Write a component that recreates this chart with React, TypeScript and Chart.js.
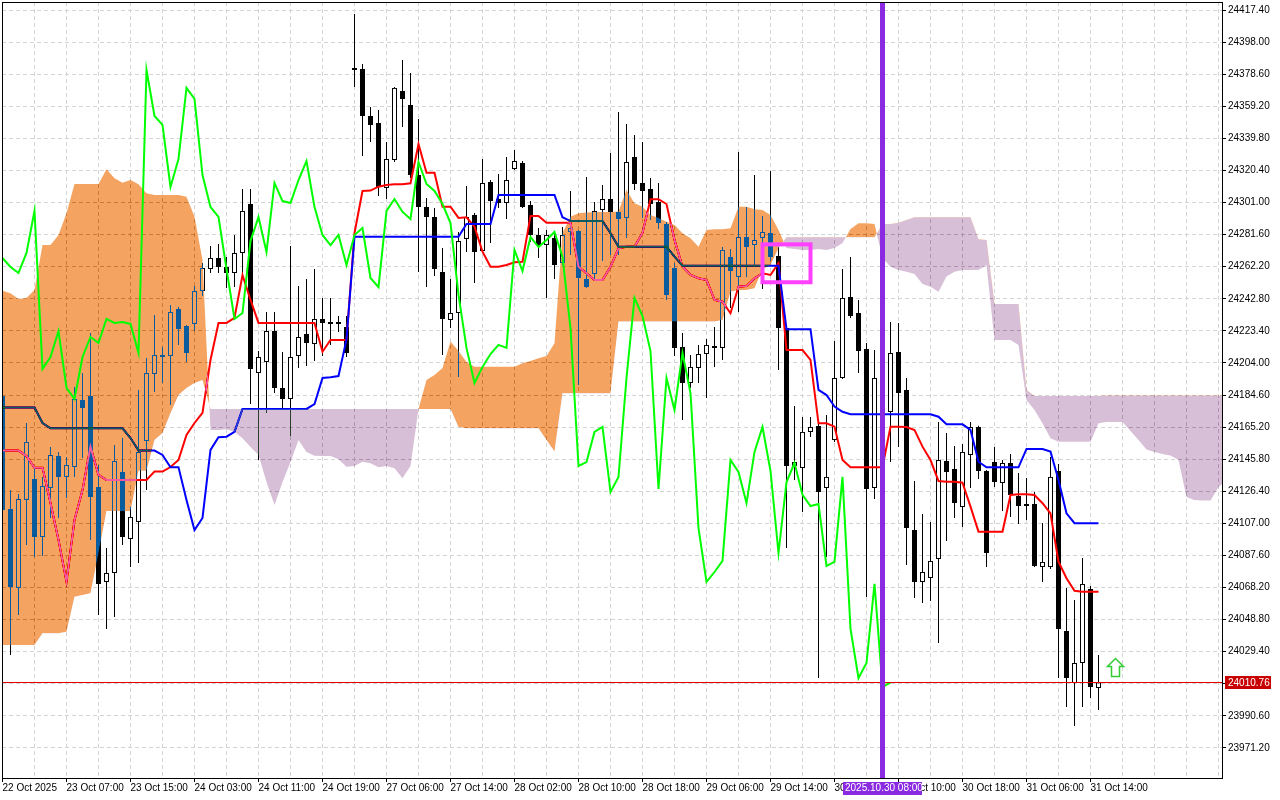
import React, { useEffect, useRef } from 'react';
import { Chart, registerables } from 'chart.js';

// ---- price data (H1 candles, index 0 = 22 Oct 2025 23:00) ----
const opens = [24184.0,24115.7,24068.0,24121.2,24133.9,24098.8,24128.4,24147.8,24135.1,24141.1,24181.6,24184.0,24129.0,24071.6,24077.0,24138.1,24097.6,24107.9,24156.8,24197.3,24207.6,24208.2,24236.6,24226.4,24227.6,24247.5,24260.8,24267.5,24262.0,24258.4,24270.5,24300.1,24197.9,24204.6,24223.3,24188.9,24182.2,24208.2,24221.5,24215.5,24230.6,24227.6,24228.8,24225.8,24382.3,24381.7,24353.3,24349.1,24309.8,24326.7,24368.4,24360.0,24317.6,24298.3,24292.3,24259.0,24230.0,24234.2,24279.0,24293.5,24271.7,24313.4,24303.1,24300.7,24321.3,24324.9,24299.5,24281.4,24275.3,24279.6,24264.4,24283.2,24283.8,24254.8,24257.8,24296.5,24303.1,24295.3,24291.7,24328.5,24312.8,24309.2,24301.3,24288.0,24261.4,24213.7,24191.9,24201.0,24209.4,24214.3,24213.1,24268.1,24256.0,24280.2,24275.3,24279.6,24282.6,24268.7,24225.1,24141.7,24140.5,24162.3,24165.9,24128.4,24157.4,24194.9,24243.9,24234.2,24212.4,24128.4,24194.9,24174.4,24210.6,24187.7,24103.0,24071.6,24074.0,24085.5,24144.7,24139.9,24116.9,24148.4,24165.3,24138.7,24144.1,24131.4,24143.5,24123.6,24117.5,24118.7,24080.6,24080.6,24138.7,24042.0,24010.5,24022.6,24067.3,24007.5];
const highs = [24186.5,24127.2,24124.8,24167.7,24141.1,24135.1,24153.2,24150.2,24147.2,24189.5,24197.9,24222.1,24142.3,24092.1,24154.4,24158.6,24116.9,24187.7,24207.0,24233.0,24213.7,24239.1,24237.8,24227.0,24250.5,24264.4,24274.7,24275.9,24268.1,24281.4,24309.2,24309.2,24211.2,24234.8,24234.8,24210.6,24274.7,24250.5,24254.8,24260.8,24243.3,24243.3,24232.4,24232.4,24415.0,24384.8,24358.8,24356.9,24337.6,24370.9,24387.2,24379.3,24351.5,24303.7,24297.7,24273.5,24254.8,24283.2,24311.0,24294.7,24327.3,24314.6,24318.3,24328.5,24332.8,24326.1,24301.9,24285.6,24284.4,24283.8,24286.2,24308.0,24284.4,24316.4,24301.3,24311.6,24331.0,24355.7,24348.5,24341.8,24337.6,24315.8,24312.8,24289.2,24264.4,24222.1,24208.8,24214.9,24218.5,24225.8,24274.1,24272.9,24331.6,24298.3,24317.6,24292.9,24320.1,24274.1,24227.0,24178.0,24171.3,24171.3,24167.1,24172.5,24217.3,24260.8,24268.1,24242.1,24216.1,24211.8,24211.8,24228.8,24228.2,24194.9,24132.6,24112.7,24107.9,24168.3,24161.7,24153.8,24155.0,24168.3,24166.0,24139.3,24153.2,24145.3,24149.0,24137.5,24134.5,24126.0,24107.2,24147.2,24142.9,24068.0,24060.7,24086.1,24069.2,24027.4];
const lows = [24112.1,24027.4,24051.6,24093.9,24086.7,24087.3,24110.3,24110.3,24122.4,24135.1,24146.5,24097.0,24051.6,24043.2,24050.4,24093.9,24080.6,24083.1,24127.2,24186.5,24191.9,24178.6,24214.9,24204.6,24223.3,24244.5,24258.4,24258.4,24249.3,24249.9,24258.4,24179.2,24145.3,24173.8,24185.8,24176.8,24159.8,24201.0,24202.2,24205.2,24208.2,24214.9,24222.7,24207.6,24370.9,24329.1,24337.6,24305.0,24303.1,24325.5,24346.7,24315.8,24259.0,24249.9,24256.6,24208.8,24225.1,24195.5,24271.1,24252.4,24271.1,24276.5,24297.7,24291.0,24320.7,24297.7,24277.1,24267.5,24243.3,24254.8,24263.2,24269.3,24190.7,24249.3,24253.6,24265.7,24269.3,24269.3,24279.6,24308.6,24291.7,24290.4,24285.0,24242.1,24208.2,24169.5,24188.9,24191.9,24182.8,24201.6,24205.8,24237.2,24234.8,24256.0,24262.0,24248.7,24265.7,24199.8,24092.1,24133.2,24113.9,24159.2,24013.5,24086.7,24156.2,24194.3,24231.2,24197.9,24062.5,24121.8,24157.4,24144.1,24153.2,24081.9,24061.9,24058.9,24060.1,24034.7,24096.4,24110.3,24104.8,24128.4,24133.9,24080.6,24129.0,24114.5,24110.9,24106.6,24109.1,24080.6,24071.6,24079.4,24013.5,23996.0,23984.5,23996.0,24001.4,23994.2];
const closes = [24115.1,24068.6,24121.8,24156.2,24098.8,24129.6,24148.4,24135.1,24142.3,24182.2,24176.8,24123.0,24070.4,24077.0,24144.7,24098.8,24110.9,24150.2,24197.9,24208.8,24208.8,24234.8,24224.5,24210.0,24247.5,24261.4,24267.5,24262.0,24258.4,24270.5,24295.9,24200.4,24207.6,24223.3,24188.9,24182.2,24207.6,24219.7,24216.1,24230.6,24228.2,24228.8,24227.6,24210.0,24381.1,24353.3,24347.9,24310.4,24327.3,24370.3,24363.6,24317.6,24298.3,24292.3,24260.8,24230.6,24234.2,24277.7,24292.3,24271.1,24312.8,24301.9,24300.7,24314.6,24326.1,24298.3,24281.4,24275.3,24281.4,24263.2,24281.4,24285.6,24255.4,24249.9,24295.9,24303.1,24295.3,24291.0,24325.5,24312.2,24308.0,24300.1,24288.6,24245.1,24213.1,24191.9,24201.6,24209.4,24214.9,24213.1,24272.3,24259.6,24280.2,24274.1,24278.4,24283.2,24268.1,24225.1,24141.7,24144.1,24162.3,24165.3,24126.0,24135.1,24194.9,24243.3,24232.4,24211.2,24127.8,24194.9,24175.6,24210.0,24185.8,24104.2,24071.6,24077.6,24084.3,24145.3,24138.1,24119.3,24150.2,24165.3,24138.7,24089.1,24132.0,24143.5,24124.2,24117.5,24118.7,24081.3,24083.7,24135.1,24043.2,24013.5,24022.6,24070.4,24008.1,24010.76];

// ---- Ichimoku lines ----
const tenkanSen = [24151.0,24151.0,24151.0,24147.8,24140.7,24140.7,24119.3,24097.0,24071.8,24109.1,24127.2,24153.4,24136.3,24133.2,24133.2,24133.2,24133.2,24133.2,24133.2,24138.3,24138.3,24141.1,24145.3,24160.5,24167.7,24173.8,24205.8,24228.2,24228.2,24231.2,24257.2,24242.1,24228.2,24228.2,24228.2,24228.2,24228.2,24228.2,24228.2,24228.2,24210.8,24217.9,24217.9,24217.9,24282.6,24308.0,24308.2,24310.6,24311.6,24312.0,24312.0,24312.6,24336.4,24319.0,24319.0,24298.5,24298.5,24291.7,24292.1,24286.4,24271.3,24262.2,24262.2,24263.2,24264.9,24265.2,24292.9,24292.9,24288.8,24288.8,24288.8,24288.8,24262.2,24258.2,24254.2,24254.2,24262.2,24273.3,24274.3,24274.3,24282.6,24303.0,24303.0,24300.1,24278.4,24262.2,24257.2,24255.2,24254.2,24242.1,24241.0,24234.0,24250.1,24250.5,24255.2,24258.2,24257.2,24264.3,24211.8,24211.8,24211.8,24205.8,24167.5,24167.5,24165.5,24145.3,24140.9,24140.9,24140.9,24140.9,24140.9,24165.5,24165.5,24165.3,24163.5,24153.4,24145.3,24132.6,24132.2,24132.2,24131.6,24117.1,24102.0,24102.0,24102.0,24102.0,24124.2,24124.6,24124.6,24124.2,24119.2,24113.1,24083.9,24073.8,24066.3,24065.7,24065.7,24065.7];
const kijunSen = [24177.0,24177.0,24177.0,24177.0,24177.0,24167.7,24164.5,24164.5,24164.5,24164.5,24164.5,24164.5,24164.5,24164.5,24164.5,24164.5,24158.6,24151.0,24151.0,24151.0,24148.4,24140.9,24140.9,24121.2,24103.0,24110.3,24151.4,24159.1,24159.4,24162.4,24176.2,24176.2,24176.2,24176.2,24176.2,24176.2,24176.2,24176.2,24176.2,24179.2,24194.9,24195.3,24196.1,24218.2,24280.3,24280.3,24280.3,24280.3,24280.3,24280.3,24280.3,24280.3,24280.3,24280.3,24280.3,24280.3,24280.3,24280.3,24288.0,24288.0,24288.0,24288.0,24305.6,24305.6,24305.6,24305.6,24305.6,24305.6,24305.6,24305.6,24292.1,24289.8,24289.8,24289.8,24289.8,24289.8,24282.4,24274.3,24274.3,24274.3,24274.3,24274.3,24274.3,24274.3,24268.3,24262.8,24262.8,24262.8,24262.8,24262.8,24262.8,24262.8,24262.8,24262.8,24262.8,24262.8,24262.8,24262.8,24224.4,24224.4,24224.4,24224.4,24187.7,24184.6,24177.6,24174.5,24173.0,24173.0,24173.0,24173.0,24173.0,24173.0,24173.0,24173.0,24173.0,24173.0,24173.0,24171.5,24166.9,24166.9,24166.9,24163.5,24144.3,24140.9,24140.9,24140.9,24140.9,24140.9,24152.0,24152.0,24152.0,24150.4,24133.2,24113.1,24107.1,24107.1,24107.1,24107.1];
const senkouA = [24247.7,24246.1,24242.7,24243.3,24248.1,24275.3,24275.3,24281.4,24294.5,24312.2,24312.2,24312.2,24312.2,24321.1,24315.7,24313.0,24314.6,24312.0,24306.6,24305.6,24305.6,24305.6,24305.6,24304.5,24292.4,24266.3,24163.5,24163.5,24163.9,24162.4,24158.5,24153.2,24148.4,24132.0,24118.1,24132.0,24144.1,24157.4,24150.2,24147.9,24147.8,24147.8,24145.8,24141.3,24141.7,24144.3,24143.3,24140.9,24141.7,24140.3,24134.3,24141.7,24176.2,24193.7,24196.7,24201.0,24216.9,24211.2,24204.6,24201.7,24201.7,24201.7,24201.7,24201.7,24201.7,24203.8,24205.2,24206.8,24208.2,24215.9,24282.6,24292.4,24294.5,24295.0,24295.3,24295.3,24295.3,24295.5,24308.6,24300.5,24298.5,24293.5,24291.7,24289.4,24287.4,24282.4,24279.4,24274.3,24284.4,24284.8,24284.8,24285.4,24298.5,24298.5,24296.9,24296.5,24293.5,24284.4,24273.5,24272.9,24272.3,24272.3,24272.9,24272.3,24273.5,24276.5,24285.0,24288.4,24288.4,24288.0,24267.5,24262.2,24260.2,24259.2,24257.8,24251.7,24250.1,24247.1,24256.2,24259.2,24260.2,24260.2,24260.2,24263.2,24217.9,24217.9,24217.9,24214.9,24181.6,24175.6,24167.5,24158.5,24156.4,24156.4,24156.4,24156.4,24156.4,24167.5,24168.3,24168.3,24168.3,24162.9,24157.4,24151.7,24150.2,24149.0,24148.1,24145.3,24123.0,24121.2,24120.9,24120.9,24129.0,24133.2];
const senkouB = [24033.5,24033.5,24033.5,24033.5,24033.5,24040.6,24040.6,24040.6,24041.5,24062.7,24063.7,24064.7,24088.9,24114.5,24114.5,24114.5,24114.5,24138.9,24138.9,24157.4,24161.7,24173.6,24184.6,24188.9,24191.9,24193.7,24176.2,24176.2,24176.2,24176.2,24176.2,24176.2,24176.2,24176.2,24176.2,24176.2,24176.2,24176.2,24176.2,24176.2,24176.2,24176.2,24176.2,24176.2,24176.2,24176.2,24176.2,24176.2,24176.2,24176.2,24176.2,24176.2,24176.2,24176.2,24176.2,24176.2,24176.2,24165.3,24164.5,24164.5,24164.5,24164.5,24164.5,24164.5,24164.5,24164.5,24164.5,24164.5,24157.4,24150.4,24185.7,24185.7,24185.7,24185.7,24185.7,24185.7,24185.7,24229.0,24229.0,24229.0,24229.0,24229.0,24229.0,24229.0,24229.0,24229.0,24229.0,24229.0,24229.0,24229.0,24230.0,24247.1,24248.1,24248.1,24249.1,24260.6,24263.2,24273.3,24280.0,24280.0,24280.0,24280.0,24280.0,24280.0,24280.0,24280.0,24280.0,24280.0,24280.0,24280.0,24288.0,24288.0,24288.8,24290.4,24292.1,24292.1,24292.1,24292.1,24292.1,24292.1,24292.1,24292.1,24278.8,24278.4,24239.7,24239.7,24239.7,24239.7,24187.7,24184.0,24184.0,24184.0,24184.0,24184.0,24184.0,24184.0,24184.0,24184.0,24184.3,24184.3,24184.3,24184.3,24184.3,24184.3,24184.3,24184.3,24184.3,24184.3,24184.3,24184.3,24184.3,24184.3,24184.3,24184.3];
const chikouShift = 26;

// ---- axis ticks / labels ----
const yTickValues = [24417.4,24398.0,24378.6,24359.2,24339.8,24320.4,24301.0,24281.6,24262.2,24242.8,24223.4,24204.0,24184.6,24165.2,24145.8,24126.4,24107.0,24087.6,24068.2,24048.8,24029.4,24010.0,23990.6,23971.2];
const xLabelIndex = [0,8,16,24,32,40,48,56,64,72,80,88,96,104,112,120,128,136];
const xLabelText = ['22 Oct 2025','23 Oct 07:00','23 Oct 15:00','24 Oct 03:00','24 Oct 11:00','24 Oct 19:00','27 Oct 06:00','27 Oct 14:00','28 Oct 02:00','28 Oct 10:00','28 Oct 18:00','29 Oct 06:00','29 Oct 14:00','30 Oct 02:00','30 Oct 10:00','30 Oct 18:00','31 Oct 06:00','31 Oct 14:00'];
const xGridIndex = [0,4,8,12,16,20,24,28,32,36,40,44,48,52,56,60,64,68,72,76,80,84,88,92,96,100,104,108,112,116,120,124,128,132,136,140,144,148,152];

// ---- annotations ----
const lastPrice = 24010.76;
const lastPriceText = '24010.76';
const markerIndex = 110;
const markerText = '2025.10.30 08:00';
const boxIndex = [95, 101];
const boxPrice = [24275.7, 24252.8];
const arrowIndex = 139;
const arrowPrice = 24025.6;

const X_MIN = -0.0625;
const X_MAX = 152.4375;
const Y_MIN = 23953.06;
const Y_MAX = 24422.24;
const FONT = '"Liberation Sans", Arial, sans-serif';

const cloudDifference = {
  id: 'cloudDifference',
  beforeDatasetDraw(chart: any, args: any) {
    const ds: any = chart.data.datasets[args.index];
    if (ds && ds.cloud) {
      chart.ctx.save();
      chart.ctx.globalCompositeOperation = 'difference';
    }
  },
  afterDatasetDraw(chart: any, args: any) {
    const ds: any = chart.data.datasets[args.index];
    if (ds && ds.cloud) chart.ctx.restore();
  },
};
Chart.register(cloudDifference as any);
Chart.register(...registerables);

function labelFor(v: number): string {
  const k = xLabelIndex.indexOf(Math.round(v));
  return k >= 0 && Math.abs(v - Math.round(v)) < 1e-6 ? xLabelText[k] : '';
}

export default function App() {
  const ref = useRef<HTMLCanvasElement | null>(null);

  useEffect(() => {
    document.body.style.margin = '0';
    const canvas = ref.current;
    if (!canvas) return;
    const idx = opens.map((_, i) => i);
    const spanIdx = senkouA.map((_, i) => i);
    const chikou = idx
      .filter((i) => i + chikouShift < closes.length)
      .map((i) => ({ x: i, y: closes[i + chikouShift] }));

    const background = {
      id: 'bg',
      beforeDraw(chart: any) {
        const c = chart.ctx;
        c.save();
        c.fillStyle = '#ffffff';
        c.fillRect(0, 0, chart.width, chart.height);
        c.restore();
      },
    };

    const overlay = {
      id: 'overlay',
      afterDraw(chart: any) {
        const c = chart.ctx;
        const ca = chart.chartArea;
        const xs = chart.scales.x;
        const ys = chart.scales.y;
        c.save();
        c.globalCompositeOperation = 'source-over';
        c.globalAlpha = 1;
        c.setLineDash([]);
        // bid line
        const rowY = Math.floor(ys.getPixelForValue(lastPrice));
        c.fillStyle = '#e00000';
        c.fillRect(ca.left, rowY, ca.right - ca.left, 1);
        // magenta rectangle
        const rx1 = xs.getPixelForValue(boxIndex[0]);
        const rx2 = xs.getPixelForValue(boxIndex[1]);
        const ry1 = ys.getPixelForValue(boxPrice[0]);
        const ry2 = ys.getPixelForValue(boxPrice[1]);
        c.strokeStyle = '#ff40ff';
        c.lineWidth = 4;
        c.strokeRect(rx1, ry1, rx2 - rx1, ry2 - ry1);
        // vertical marker line
        const vx = xs.getPixelForValue(markerIndex);
        c.fillStyle = '#8a2be2';
        c.fillRect(Math.round(vx - 2.5), ca.top, 5, ca.bottom - ca.top);
        // up arrow
        const ax = Math.round(xs.getPixelForValue(arrowIndex)) + 0.5;
        const ay = Math.round(ys.getPixelForValue(arrowPrice)) + 0.5;
        c.beginPath();
        c.moveTo(ax, ay);
        c.lineTo(ax + 8, ay + 8);
        c.lineTo(ax + 4, ay + 8);
        c.lineTo(ax + 4, ay + 18);
        c.lineTo(ax - 4, ay + 18);
        c.lineTo(ax - 4, ay + 8);
        c.lineTo(ax - 8, ay + 8);
        c.closePath();
        c.fillStyle = '#ffffff';
        c.fill();
        c.strokeStyle = '#32cd32';
        c.lineWidth = 1.5;
        c.stroke();
        // frame
        c.strokeStyle = '#000000';
        c.lineWidth = 1;
        c.strokeRect(ca.left + 0.5, ca.top + 0.5, ca.right - ca.left, ca.bottom - ca.top);
        // price box on the right axis
        c.fillStyle = '#c80000';
        c.fillRect(ca.right + 3, rowY - 6, 46, 13);
        c.fillStyle = '#ffffff';
        c.font = '10px ' + FONT;
        c.textBaseline = 'middle';
        c.textAlign = 'left';
        c.fillText(lastPriceText, ca.right + 6, rowY + 1);
        // date box on the time axis
        c.fillStyle = '#8a2be2';
        c.fillRect(843, ca.bottom + 4, 79, 13);
        c.fillStyle = '#ffffff';
        c.fillText(markerText, 845, ca.bottom + 10.5);
        c.restore();
      },
    };

    const chart = new Chart(canvas, {
      type: 'bar',
      data: {
        datasets: [
          {
            type: 'bar',
            label: 'wick',
            data: idx.map((i) => ({ x: i, y: [lows[i], highs[i]] })) as any,
            backgroundColor: '#000000',
            borderWidth: 0,
            barThickness: 1,
            grouped: false,
            inflateAmount: 0,
            order: 10,
          } as any,
          {
            type: 'bar',
            label: 'body',
            data: idx.map((i) => ({ x: i, y: [opens[i], closes[i]] })) as any,
            backgroundColor: idx.map((i) => (closes[i] >= opens[i] ? '#ffffff' : '#000000')),
            borderColor: '#000000',
            borderWidth: 1,
            borderSkipped: false,
            barThickness: 5,
            grouped: false,
            inflateAmount: 0,
            order: 9,
          } as any,
          {
            type: 'line',
            label: 'Tenkan-sen',
            data: idx.map((i) => ({ x: i, y: tenkanSen[i] })),
            borderColor: '#ff0000',
            borderWidth: 2,
            pointRadius: 0,
            tension: 0,
            fill: false,
            order: 8,
          } as any,
          {
            type: 'line',
            label: 'Kijun-sen',
            data: idx.map((i) => ({ x: i, y: kijunSen[i] })),
            borderColor: '#0000ff',
            borderWidth: 2,
            pointRadius: 0,
            tension: 0,
            fill: false,
            order: 7,
          } as any,
          {
            type: 'line',
            label: 'Senkou Span B',
            data: spanIdx.map((i) => ({ x: i, y: senkouB[i] })),
            borderColor: 'rgba(0,0,0,0)',
            borderWidth: 0,
            pointRadius: 0,
            tension: 0,
            fill: false,
            order: 6,
          } as any,
          {
            type: 'line',
            label: 'Senkou Span A',
            cloud: true,
            data: spanIdx.map((i) => ({ x: i, y: senkouA[i] })),
            borderColor: 'rgba(0,0,0,0)',
            borderWidth: 0,
            pointRadius: 0,
            tension: 0,
            fill: { target: 4, above: 'rgb(11,91,159)', below: 'rgb(39,64,39)' },
            order: 5,
          } as any,
          {
            type: 'line',
            label: 'Chikou Span',
            data: chikou,
            borderColor: '#00ff00',
            borderWidth: 2,
            pointRadius: 0,
            tension: 0,
            fill: false,
            order: 4,
          } as any,
        ],
      },
      options: {
        responsive: false,
        maintainAspectRatio: false,
        animation: false,
        devicePixelRatio: 1,
        events: [],
        layout: { padding: { left: 2, top: 2, right: 0, bottom: 0 } },
        plugins: {
          legend: { display: false },
          tooltip: { enabled: false },
        },
        scales: {
          x: {
            type: 'linear',
            min: X_MIN,
            max: X_MAX,
            offset: false,
            afterBuildTicks: (scale: any) => {
              scale.ticks = xGridIndex.map((v) => ({ value: v }));
            },
            afterFit: (scale: any) => {
              scale.height = 22;
              scale.paddingLeft = 0;
              scale.paddingRight = 0;
            },
            ticks: {
              autoSkip: false,
              maxRotation: 0,
              minRotation: 0,
              align: 'start',
              padding: 0,
              color: '#000000',
              font: { family: FONT, size: 10 },
              callback: (v: any) => labelFor(Number(v)),
            },
            grid: {
              color: '#d4d4d4',
              lineWidth: 1,
              offset: false,
              drawTicks: true,
              tickLength: 4,
              tickWidth: 1,
              tickColor: (c: any) => (c.tick && labelFor(c.tick.value) ? '#000000' : 'rgba(0,0,0,0)'),
            },
            border: { display: false, dash: [4, 3] },
          } as any,
          y: {
            type: 'linear',
            position: 'right',
            min: Y_MIN,
            max: Y_MAX,
            afterBuildTicks: (scale: any) => {
              scale.ticks = yTickValues.map((v) => ({ value: v }));
            },
            afterFit: (scale: any) => {
              scale.width = 58;
              scale.paddingTop = 0;
              scale.paddingBottom = 0;
            },
            ticks: {
              padding: 2,
              color: '#000000',
              font: { family: FONT, size: 10 },
              callback: (v: any) => Number(v).toFixed(2),
            },
            grid: {
              color: '#d4d4d4',
              lineWidth: 1,
              drawTicks: true,
              tickLength: 4,
              tickWidth: 1,
              tickColor: '#000000',
            },
            border: { display: false, dash: [4, 3] },
          } as any,
        },
      } as any,
      plugins: [background, overlay],
    });
    return () => chart.destroy();
  }, []);

  return (
    <canvas
      ref={ref}
      width={1280}
      height={800}
      style={{ display: 'block', position: 'absolute', left: 0, top: 0, width: 1280, height: 800 }}
    />
  );
}
